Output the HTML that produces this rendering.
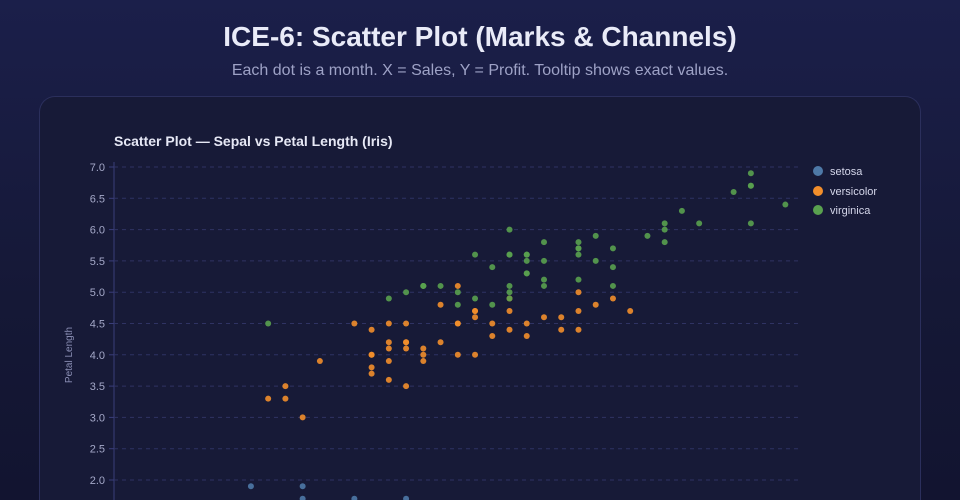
<!DOCTYPE html>
<html><head><meta charset="utf-8"><style>
html,body{margin:0;padding:0;width:960px;height:500px;overflow:hidden;}
body{background:linear-gradient(180deg,#1b1f4a 0%,#151836 60%,#121430 100%);font-family:"Liberation Sans",sans-serif;position:relative;}
h1{position:absolute;left:0;right:0;top:21px;margin:0;text-align:center;color:#e9ebf8;font-size:28px;font-weight:bold;}
.sub{position:absolute;left:0;right:0;top:62px;text-align:center;color:#9ea2c6;font-size:16px;}
.card{position:absolute;left:39px;top:96px;width:881px;height:404px;background:#171a37;border:1px solid #2b2f5c;border-bottom:none;border-radius:16px 16px 0 0;box-sizing:border-box;width:882px;}
svg{position:absolute;left:0;top:0;}
</style></head><body>
<h1>ICE-6: Scatter Plot (Marks &amp; Channels)</h1>
<div class="sub">Each dot is a month. X = Sales, Y = Profit. Tooltip shows exact values.</div>
<div class="card"></div>
<svg id="s" width="960" height="500" font-family="Liberation Sans, sans-serif">
<text x="114" y="146" fill="#e6e8f5" font-size="14" font-weight="bold">Scatter Plot — Sepal vs Petal Length (Iris)</text>
<text transform="translate(72,355) rotate(-90)" text-anchor="middle" fill="#8a8eb4" font-size="10">Petal Length</text>
<line x1="114" y1="162" x2="114" y2="500" stroke="#3a3e7a" stroke-width="1"/>
<g id="g"></g>
<g font-size="11" fill="#d4d6ea">
<circle cx="818" cy="171" r="5" fill="#4e79a7"/><text x="830" y="175">setosa</text>
<circle cx="818" cy="191" r="5" fill="#f28e2b"/><text x="830" y="195">versicolor</text>
<circle cx="818" cy="210" r="5" fill="#59a14f"/><text x="830" y="214">virginica</text>
</g>
</svg>
<script>
var g=document.getElementById('g'),h='';
function Y(v){return 480-(v-2)*62.6}
function X(v){return 113+(v-4)*172.4}
for(var i=0;i<=10;i++){var v=2+i*0.5,y=Y(v);
h+='<line x1="114" y1="'+y+'" x2="800" y2="'+y+'" stroke="#2f3363" stroke-dasharray="4,4"/>';
h+='<line x1="109" y1="'+y+'" x2="114" y2="'+y+'" stroke="#3a3e7a"/>';
h+='<text x="105" y="'+(y+4)+'" text-anchor="end" fill="#a4a8c8" font-size="11">'+v.toFixed(1)+'</text>';}
var se=[[4.8,1.9],[5.1,1.9],[5.4,1.7],[5.7,1.7],[5.1,1.7]];
var ve=[7.0,4.7,6.4,4.5,6.9,4.9,5.5,4.0,6.5,4.6,5.7,4.5,6.3,4.7,4.9,3.3,6.6,4.6,5.2,3.9,5.0,3.5,5.9,4.2,6.0,4.0,6.1,4.7,5.6,3.6,6.7,4.4,5.6,4.5,5.8,4.1,6.2,4.5,5.6,3.9,5.9,4.8,6.1,4.0,6.3,4.9,6.1,4.7,6.4,4.3,6.6,4.4,6.8,4.8,6.7,5.0,6.0,4.5,5.7,3.5,5.5,3.8,5.5,3.7,5.8,3.9,6.0,5.1,5.4,4.5,6.0,4.5,6.7,4.7,6.3,4.4,5.6,4.1,5.5,4.0,5.5,4.4,6.1,4.6,5.8,4.0,5.0,3.3,5.6,4.2,5.7,4.2,5.7,4.2,6.2,4.3,5.1,3.0,5.7,4.1];
var vi=[6.3,6.0,5.8,5.1,7.1,5.9,6.3,5.6,6.5,5.8,7.6,6.6,4.9,4.5,7.3,6.3,6.7,5.8,7.2,6.1,6.5,5.1,6.4,5.3,6.8,5.5,5.7,5.0,5.8,5.1,6.4,5.3,6.5,5.5,7.7,6.7,7.7,6.9,6.0,5.0,6.9,5.7,5.6,4.9,7.7,6.7,6.3,4.9,6.7,5.7,7.2,6.0,6.2,4.8,6.1,4.9,6.4,5.6,7.2,5.8,7.4,6.1,7.9,6.4,6.4,5.6,6.3,5.1,6.1,5.6,7.7,6.1,6.3,5.6,6.4,5.5,6.0,4.8,6.9,5.4,6.7,5.6,6.9,5.1,5.8,5.1,6.8,5.9,6.7,5.7,6.7,5.2,6.3,5.0,6.5,5.2,6.2,5.4,5.9,5.1];
se.forEach(function(p){h+='<circle cx="'+X(p[0])+'" cy="'+Y(p[1])+'" r="3" fill="#4e79a7" opacity="0.9"/>';});
for(var i=0;i<ve.length;i+=2)h+='<circle cx="'+X(ve[i])+'" cy="'+Y(ve[i+1])+'" r="3" fill="#f28e2b" opacity="0.9"/>';
for(var i=0;i<vi.length;i+=2)h+='<circle cx="'+X(vi[i])+'" cy="'+Y(vi[i+1])+'" r="3" fill="#59a14f" opacity="0.9"/>';
g.innerHTML=h;
</script>
</body></html>
